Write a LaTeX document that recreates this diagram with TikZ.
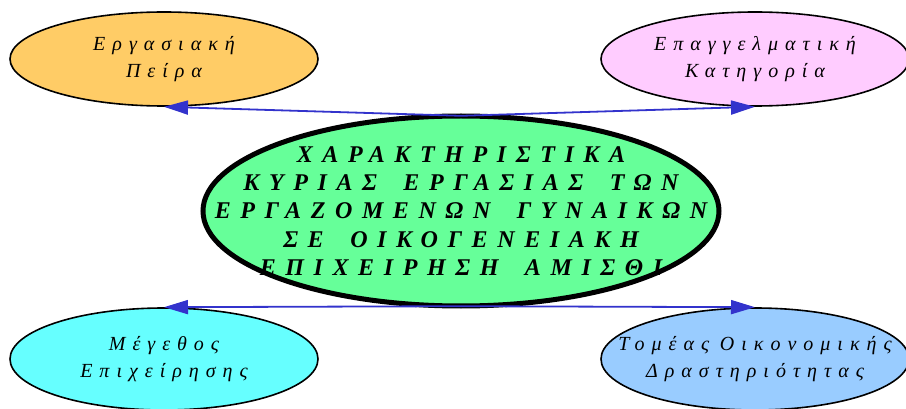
\documentclass[tikz,border=0pt]{standalone}
\usepackage{fontspec}
\setmainfont{Liberation Serif}
\newfontfamily\sidefont[LetterSpace=35, WordSpace=0.9]{Liberation Serif}
\newfontfamily\titlefont[LetterSpace=40, WordSpace=1.7]{Liberation Serif}
\usetikzlibrary{shapes.geometric, arrows.meta}
\definecolor{peach}{HTML}{FFCC66}
\definecolor{lilac}{HTML}{FFCCFF}
\definecolor{mint}{HTML}{66FF99}
\definecolor{aqua}{HTML}{66FFFF}
\definecolor{sky}{HTML}{99CCFF}
\definecolor{link}{HTML}{3333CC}
\begin{document}
\begin{tikzpicture}[x=1pt, y=-1pt,
  side/.style={ellipse, draw, line width=1.6pt, minimum width=308, minimum height=94, inner sep=0pt},
  sidetext/.style={align=center, font=\sidefont\itshape\fontsize{20}{27}\selectfont},
  hub/.style={ellipse, minimum width=516, minimum height=190, inner sep=0pt},
  link/.style={draw=link, line width=1.8pt, -{Triangle[length=24pt, width=14pt]}}]
\useasboundingbox (0,0) rectangle (906,409);
\node[side, fill=peach] (work) at (164,59) {};
\node[sidetext] at (work) {Εργασιακή\\Πείρα};
\node[side, fill=lilac] (job) at (755,59) {};
\node[sidetext] at (job) {Επαγγελματική\\Κατηγορία};
\node[side, fill=aqua, minimum height=102] (size) at (164,359) {};
\node[sidetext] at (size) {Μέγεθος\\Επιχείρησης};
\node[side, fill=sky, minimum height=102] (sector) at (755,359) {};
\node[sidetext] at (sector) {Τομέας Οικονομικής\\Δραστηριότητας};
% central ellipse: fill, text, then border over the text
\node[hub, fill=mint] (main) at (461,211) {};
\node[align=center, font=\titlefont\bfseries\itshape\fontsize{24}{28.3}\selectfont] (title) at (main) {ΧΑΡΑΚΤΗΡΙΣΤΙΚΑ\\ΚΥΡΙΑΣ ΕΡΓΑΣΙΑΣ ΤΩΝ\\ΕΡΓΑΖΟΜΕΝΩΝ ΓΥΝΑΙΚΩΝ\\ΣΕ ΟΙΚΟΓΕΝΕΙΑΚΗ\\ΕΠΙΧΕΙΡΗΣΗ ΑΜΙΣΘΙ};
\draw[line width=5pt] (main.center) ellipse [x radius=258, y radius=95];
\draw[link] (main.north) -- (work.south);
\draw[link] (main.north) -- (job.south);
\draw[link] (main.south) -- (size.north);
\draw[link] (main.south) -- (sector.north);
\end{tikzpicture}
\end{document}
